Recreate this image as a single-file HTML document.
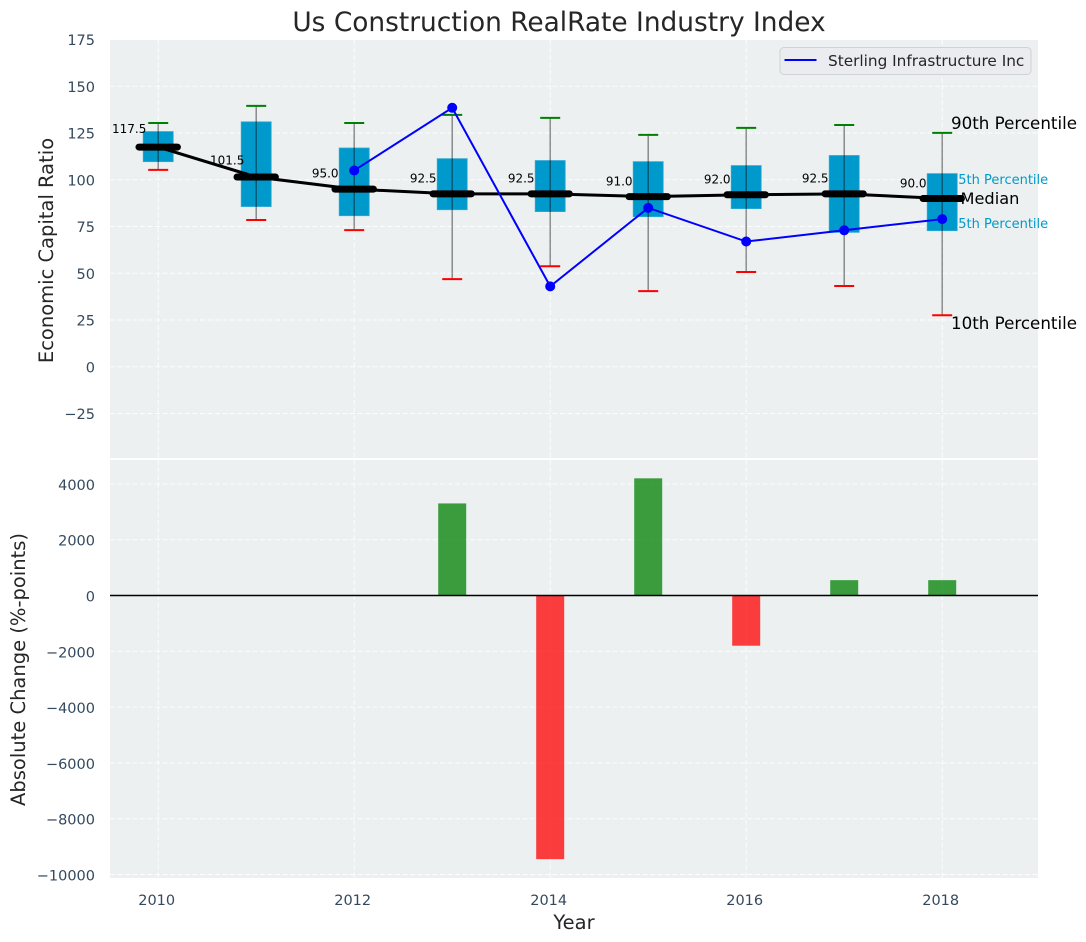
<!DOCTYPE html>
<html lang="en">
<head>
<meta charset="utf-8">
<title>Us Construction RealRate Industry Index</title>
<style>
html,body{margin:0;padding:0;background:#fff;width:1086px;height:942px;overflow:hidden}
svg{display:block;font-family:"DejaVu Sans","Liberation Sans",sans-serif}
</style>
</head>
<body>
<svg id="chart" xmlns="http://www.w3.org/2000/svg" width="1086" height="942" viewBox="0 0 1086 942">
  <rect x="0" y="0" width="1086" height="942" fill="#fff"/>
  <rect x="110" y="40" width="928" height="418" fill="#ecf0f1"/>
  <rect x="110" y="460" width="928" height="418" fill="#ecf0f1"/>
  <g id="grid"></g>
  <g id="ticks"></g>
  <text x="559" y="31" text-anchor="middle" font-size="26.4" fill="#262626">Us Construction RealRate Industry Index</text>
  <text transform="translate(53 250.5) rotate(-90)" text-anchor="middle" font-size="19.5" fill="#262626">Economic Capital Ratio</text>
  <text transform="translate(25 669.5) rotate(-90)" text-anchor="middle" font-size="19.5" fill="#262626">Absolute Change (%-points)</text>
  <text x="574" y="929" text-anchor="middle" font-size="19.5" fill="#262626">Year</text>
  <text x="950" y="184" font-size="13" fill="#0099cc">75th Percentile</text>
  <text x="950" y="228" font-size="13" fill="#0099cc">25th Percentile</text>
  <g id="boxes"></g>
  <g id="bars"></g>
  <line x1="110" x2="1038" y1="595.5" y2="595.5" stroke="#000" stroke-width="1.4"/>
  <polyline id="median-line" fill="none" stroke="#000" stroke-width="3"/>
  <g id="labels"></g>
  <polyline id="company-line" fill="none" stroke="#0000ff" stroke-width="2"/>
  <g id="company-points"></g>
  <text x="951" y="129" font-size="16.7" fill="#000">90th Percentile</text>
  <text x="960.5" y="204" font-size="16.2" fill="#000">Median</text>
  <text x="951" y="329" font-size="16.7" fill="#000">10th Percentile</text>
  <g>
    <rect x="780" y="47.5" width="251" height="27" rx="4" fill="#eaecf0" stroke="#d0d2d6" stroke-width="1"/>
    <line x1="784.5" x2="816.5" y1="60" y2="60" stroke="#0000ff" stroke-width="2"/>
    <text x="828" y="66" font-size="15.3" fill="#262626">Sterling Infrastructure Inc</text>
  </g>
</svg>
<script>
const years = [2010, 2011, 2012, 2013, 2014, 2015, 2016, 2017, 2018];
const p90 = [130.4, 139.5, 130.4, 134.7, 133.1, 124, 127.8, 129.3, 125.1];
const p75 = [125.8, 131, 117, 111.3, 110.3, 109.7, 107.6, 113, 103.3];
const medians = [117.5, 101.5, 95, 92.5, 92.5, 91, 92, 92.5, 90];
const p25 = [109.7, 85.7, 80.8, 84, 83, 80.3, 84.6, 71.9, 72.8];
const p10 = [105.3, 78.5, 73.1, 46.9, 53.8, 40.5, 50.7, 43.2, 27.6];
const companyYears = [2012, 2013, 2014, 2015, 2016, 2017, 2018];
const companyValues = [105, 138.5, 43, 85, 67, 73, 79];
const changeYears = [2013, 2014, 2015, 2016, 2017, 2018];
const changeValues = [3300, -9450, 4200, -1800, 550, 550];
const topTicks = [-25, 0, 25, 50, 75, 100, 125, 150, 175];
const bottomTicks = [-10000, -8000, -6000, -4000, -2000, 0, 2000, 4000];
const xTicks = [2010, 2012, 2014, 2016, 2018];

const NS = 'http://www.w3.org/2000/svg';
const xScale = v => 158.2 + (v - 2010) * 98;
const yTop = v => 366.8 - v * 1.87;
const yBottom = v => 595.5 - v * 0.0279;
const fmtTick = v => (v < 0 ? '\u2212' + Math.abs(v) : String(v));

function make(parent, tag, props, content) {
  const el = document.createElementNS(NS, tag);
  for (const k in props) el.setAttribute(k, props[k]);
  if (content !== undefined) el.textContent = content;
  parent.appendChild(el);
  return el;
}

const grid = document.getElementById('grid');
const ticks = document.getElementById('ticks');
const dash = { stroke: '#ffffff', 'stroke-width': 1, 'stroke-dasharray': '5 2.5', 'stroke-opacity': 0.85 };

xTicks.forEach(t => {
  const x = xScale(t);
  const a = make(grid, 'line', Object.assign({ x1: x, x2: x, y1: 40, y2: 458 }, dash));
  
  
  const b = make(grid, 'line', Object.assign({ x1: x, x2: x, y1: 460, y2: 878 }, dash));
  
  
  const l = make(ticks, 'text', { x: x - 1.5, y: 905, 'text-anchor': 'middle', 'font-size': 14.5, fill: '#34495e' }, String(t));
  
  
});

topTicks.forEach(t => {
  const y = yTop(t);
  const g = make(grid, 'line', Object.assign({ x1: 110, x2: 1038, y1: y, y2: y }, dash));
  
  
  const l = make(ticks, 'text', { x: 95, y: y + 5.5, 'text-anchor': 'end', 'font-size': 14.5, fill: '#34495e' }, fmtTick(t));
  
  
});

bottomTicks.forEach(t => {
  const y = yBottom(t);
  const g = make(grid, 'line', Object.assign({ x1: 110, x2: 1038, y1: y, y2: y }, dash));
  
  
  const l = make(ticks, 'text', { x: 95, y: y + 6, 'text-anchor': 'end', 'font-size': 14.5, fill: '#34495e' }, fmtTick(t));
  
  
});

const boxes = document.getElementById('boxes');
years.forEach((yr, i) => {
  const x = xScale(yr);
  const box = make(boxes, 'rect', { x: x - 15, y: yTop(p75[i]), width: 30, height: yTop(p25[i]) - yTop(p75[i]), fill: '#0099cc', stroke: '#2fa9d3', 'stroke-width': 0.8 });
  
  
  const stem = make(boxes, 'line', { x1: x, x2: x, y1: yTop(p90[i]), y2: yTop(p10[i]), stroke: '#000', 'stroke-opacity': 0.45, 'stroke-width': 1.4 });
  
  
  const hi = make(boxes, 'line', { x1: x - 10, x2: x + 10, y1: yTop(p90[i]), y2: yTop(p90[i]), stroke: '#008000', 'stroke-width': 2 });
  
  
  const lo = make(boxes, 'line', { x1: x - 10, x2: x + 10, y1: yTop(p10[i]), y2: yTop(p10[i]), stroke: '#ff0000', 'stroke-width': 2 });
  
  
  const med = make(boxes, 'line', { x1: x - 19.2, x2: x + 19.2, y1: yTop(medians[i]), y2: yTop(medians[i]), stroke: '#000', 'stroke-width': 7, 'stroke-linecap': 'round' });
  
  
});

document.getElementById('median-line').setAttribute('points', years.map((yr, i) => xScale(yr) + ',' + yTop(medians[i])).join(' '));

const labels = document.getElementById('labels');
years.forEach((yr, i) => {
  const t = make(labels, 'text', { x: xScale(yr) - 29, y: yTop(medians[i] * 1.065), 'text-anchor': 'middle', 'font-size': 12, fill: '#000' }, medians[i].toFixed(1));
  
  
});

document.getElementById('company-line').setAttribute('points', companyYears.map((yr, i) => xScale(yr) + ',' + yTop(companyValues[i])).join(' '));
const companyPoints = document.getElementById('company-points');
companyYears.forEach((yr, i) => {
  const c = make(companyPoints, 'circle', { cx: xScale(yr), cy: yTop(companyValues[i]), r: 5, fill: '#0000ff' });
  
  
});

const bars = document.getElementById('bars');
changeYears.forEach((yr, i) => {
  const v = changeValues[i];
  const y0 = yBottom(Math.max(v, 0));
  const y1 = yBottom(Math.min(v, 0));
  const r = make(bars, 'rect', { x: xScale(yr) - 14, y: y0, width: 28, height: y1 - y0, fill: v >= 0 ? '#008000' : '#ff0000', 'fill-opacity': 0.75 });
  
  
});
</script>
</body>
</html>
